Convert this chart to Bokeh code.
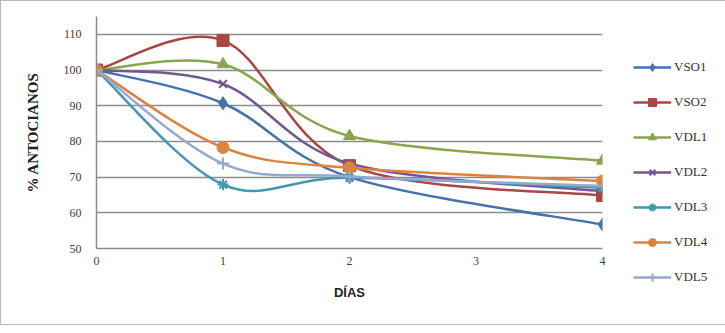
from bokeh.plotting import figure
from bokeh.models import Legend, LegendItem, FixedTicker, Range1d
from bokeh.embed import file_html
from bokeh.resources import INLINE

days = [0, 1, 2, 4]
names = ["VSO1", "VSO2", "VDL1", "VDL2", "VDL3", "VDL4", "VDL5"]
vso1 = [100, 90.7, 70.0, 56.7]
vso2 = [100, 108.3, 73.2, 64.8]
vdl1 = [100, 101.6, 81.5, 74.6]
vdl2 = [100, 96.1, 73.8, 66.0]
vdl3 = [100, 67.9, 69.8, 67.0]
vdl4 = [100, 78.3, 72.6, 68.9]
vdl5 = [100, 73.8, 70.2, 67.5]
x_ticks = [0, 1, 2, 3, 4]
y_ticks = [50, 60, 70, 80, 90, 100, 110]

series = [vso1, vso2, vdl1, vdl2, vdl3, vdl4, vdl5]
colors = ["#4572A7", "#AA4643", "#89A54E", "#71588F", "#4198AF", "#DB843D", "#93A9CF"]
markers = ["diamond", "square", "triangle", "x", "asterisk", "circle", "cross"]
msizes = [13, 12, 12, 11, 11, 12, 12]

p = figure(frame_width=506, frame_height=232, output_backend="svg", toolbar_location=None,
           x_range=Range1d(0, 4), y_range=Range1d(50, 115),
           min_border_left=95, min_border_right=114, min_border_top=15, min_border_bottom=76)
p.styles = {"border": "1px solid #b8b8b8", "box-sizing": "border-box"}
p.outline_line_color = None
p.background_fill_color = "white"
p.border_fill_color = "white"

p.xgrid.grid_line_color = None
p.ygrid.grid_line_color = "#8c8c8c"
p.ygrid.grid_line_width = 1.5
p.ygrid.ticker = FixedTicker(ticks=y_ticks[1:])

for ax, ticks in ((p.xaxis[0], x_ticks), (p.yaxis[0], y_ticks)):
    ax.ticker = FixedTicker(ticks=ticks)
    ax.axis_line_color = "#8c8c8c"
    ax.axis_line_width = 1.5
    ax.major_tick_line_color = None
    ax.minor_tick_line_color = None
    ax.major_tick_out = 0
    ax.major_tick_in = 0
    ax.major_label_text_font = "Liberation Serif"
    ax.major_label_text_font_size = "12px"
    ax.major_label_text_color = "#404040"
    ax.axis_label_text_font_style = "bold"
    ax.axis_label_text_color = "#222222"

p.xaxis.major_label_standoff = 8
p.yaxis.major_label_standoff = 15
p.xaxis.axis_label = "DÍAS"
p.xaxis.axis_label_text_font = "Liberation Sans"
p.xaxis.axis_label_text_font_size = "13px"
p.yaxis.axis_label = "% ANTOCIANOS"
p.yaxis.axis_label_text_font = "Liberation Serif"
p.yaxis.axis_label_text_font_size = "15px"
p.xaxis.axis_label_standoff = 17
p.yaxis.axis_label_standoff = 20

items = []
for name, ys, col, mk, ms in zip(names, series, colors, markers, msizes):
    n = len(days)
    px = [days[0]] + days + [days[-1]]
    py = [ys[0]] + ys + [ys[-1]]
    x0, y0, x1, y1, cx0, cy0, cx1, cy1 = [], [], [], [], [], [], [], []
    for i in range(n - 1):
        a, b, c, d = i, i + 1, i + 2, i + 3
        x0.append(px[b]); y0.append(py[b]); x1.append(px[c]); y1.append(py[c])
        cx0.append(px[b] + (px[c] - px[a]) / 6.0)
        cy0.append(py[b] + (py[c] - py[a]) / 6.0)
        cx1.append(px[c] - (px[d] - px[b]) / 6.0)
        cy1.append(py[c] - (py[d] - py[b]) / 6.0)
    r1 = p.bezier(x0=x0, y0=y0, x1=x1, y1=y1, cx0=cx0, cy0=cy0, cx1=cx1, cy1=cy1,
                  line_color=col, line_width=2.5)
    lw = 2 if mk in ("x", "asterisk", "cross") else 1
    r2 = p.scatter(days, ys, marker=mk, size=ms, fill_color=col, line_color=col, line_width=lw)
    items.append(LegendItem(label=name, renderers=[r1, r2]))

legend = Legend(items=items, location=(31, -39), margin=0, padding=0,
                glyph_width=38, glyph_height=20, label_height=20, spacing=15,
                label_standoff=3, border_line_color=None, background_fill_alpha=0,
                label_text_font="Liberation Serif", label_text_font_size="13px",
                label_text_color="#333333")
p.add_layout(legend, "right")

open("out.html", "w").write(file_html(p, INLINE))
